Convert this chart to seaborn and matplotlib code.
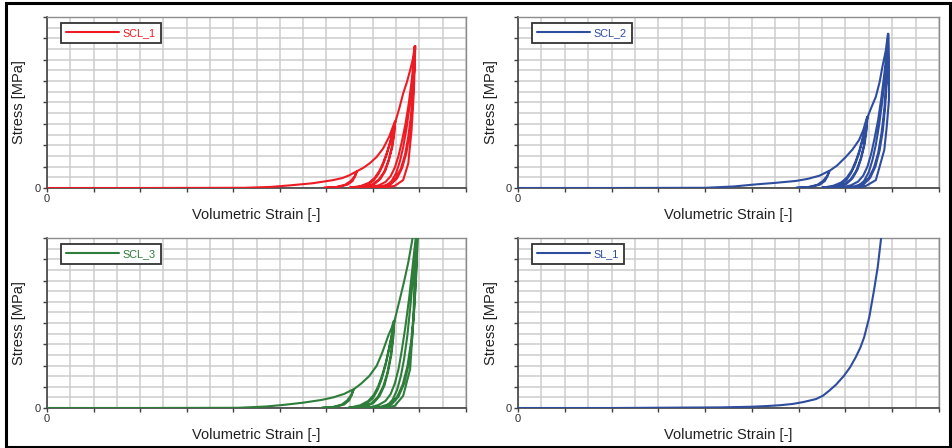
import matplotlib
matplotlib.use("Agg")
import matplotlib.pyplot as plt
import pandas as pd
import seaborn as sns
from matplotlib.patches import Rectangle
from matplotlib.ticker import MultipleLocator

# ---------------- data (axis units: x 0..9 ticks, y 0..8 ticks) ----------------
SCL1_X = [0.00, 2.00, 4.25, 4.80, 5.20, 5.70, 6.15, 6.35, 6.50, 6.65,
          6.62, 6.56, 6.45, 6.25, 5.95,
          6.20, 6.40, 6.52, 6.60, 6.67,
          6.80, 6.94, 7.08, 7.22, 7.35, 7.47,
          7.45, 7.40, 7.33, 7.24, 7.12, 6.98, 6.80, 6.50,
          6.55, 6.75, 6.92, 7.04, 7.14, 7.22, 7.30, 7.38, 7.44, 7.48,
          7.46, 7.42, 7.35, 7.27, 7.16, 7.03, 6.86, 6.60,
          6.70, 6.88, 7.02, 7.12, 7.21, 7.29, 7.36, 7.43, 7.49,
          7.57, 7.65, 7.73, 7.80, 7.86, 7.90,
          7.89, 7.86, 7.82, 7.76, 7.69, 7.60, 7.49, 7.35, 7.15, 6.85,
          6.95, 7.12, 7.27, 7.38, 7.47, 7.55, 7.62, 7.70, 7.77, 7.84, 7.90,
          7.89, 7.87, 7.84, 7.79, 7.72, 7.63, 7.52, 7.38, 7.20,
          7.28, 7.40, 7.50, 7.58, 7.65, 7.72, 7.79, 7.86, 7.91,
          7.90, 7.88, 7.83, 7.76, 7.65, 7.47, 7.30, 7.00]
SCL1_Y = [0.00, 0.00, 0.01, 0.05, 0.12, 0.22, 0.37, 0.47, 0.60, 0.78,
          0.55, 0.32, 0.15, 0.05, 0.01,
          0.04, 0.15, 0.32, 0.52, 0.80,
          0.95, 1.17, 1.45, 1.85, 2.40, 3.10,
          2.50, 1.85, 1.25, 0.75, 0.38, 0.16, 0.06, 0.02,
          0.03, 0.10, 0.25, 0.48, 0.80, 1.18, 1.65, 2.20, 2.70, 3.12,
          2.55, 1.95, 1.35, 0.82, 0.42, 0.18, 0.07, 0.02,
          0.05, 0.16, 0.36, 0.66, 1.05, 1.52, 2.05, 2.65, 3.15,
          3.75, 4.42, 4.95, 5.51, 6.05, 6.64,
          5.60, 4.50, 3.40, 2.40, 1.55, 0.90, 0.45, 0.18, 0.06, 0.02,
          0.04, 0.12, 0.28, 0.55, 0.95, 1.50, 2.15, 3.00, 3.95, 5.15, 6.60,
          5.70, 4.70, 3.60, 2.55, 1.65, 0.95, 0.45, 0.16, 0.05,
          0.10, 0.32, 0.70, 1.25, 1.90, 2.75, 3.85, 5.20, 6.64,
          5.83, 4.50, 2.70, 1.15, 0.37, 0.10, 0.03, 0.01]

SCL2_X = [0.00, 2.00, 4.00, 4.60, 5.09, 5.50, 5.94, 6.20, 6.45, 6.65,
          6.62, 6.56, 6.45, 6.25, 5.95,
          6.20, 6.40, 6.52, 6.60, 6.67,
          6.82, 7.01, 7.15, 7.29, 7.38, 7.46,
          7.44, 7.39, 7.32, 7.23, 7.11, 6.97, 6.79, 6.50,
          6.55, 6.75, 6.92, 7.04, 7.14, 7.22, 7.30, 7.37, 7.43, 7.47,
          7.45, 7.41, 7.34, 7.26, 7.15, 7.02, 6.85, 6.60,
          6.70, 6.88, 7.02, 7.12, 7.21, 7.29, 7.36, 7.42, 7.48,
          7.56, 7.65, 7.73, 7.79, 7.86, 7.91,
          7.90, 7.87, 7.83, 7.77, 7.70, 7.61, 7.50, 7.36, 7.16, 6.85,
          6.95, 7.12, 7.27, 7.38, 7.47, 7.55, 7.62, 7.70, 7.77, 7.84, 7.90,
          7.89, 7.88, 7.85, 7.80, 7.73, 7.64, 7.53, 7.39, 7.21,
          7.28, 7.40, 7.50, 7.58, 7.65, 7.72, 7.79, 7.86, 7.92,
          7.93, 7.93, 7.88, 7.83, 7.65, 7.44, 7.30, 7.00]
SCL2_Y = [0.00, 0.00, 0.01, 0.07, 0.17, 0.24, 0.33, 0.43, 0.58, 0.80,
          0.56, 0.33, 0.15, 0.05, 0.01,
          0.04, 0.15, 0.33, 0.54, 0.82,
          1.05, 1.46, 1.80, 2.24, 2.70, 3.30,
          2.65, 1.95, 1.32, 0.80, 0.40, 0.17, 0.06, 0.02,
          0.03, 0.11, 0.27, 0.51, 0.85, 1.26, 1.76, 2.35, 2.88, 3.32,
          2.70, 2.05, 1.42, 0.87, 0.45, 0.19, 0.07, 0.02,
          0.05, 0.17, 0.38, 0.70, 1.12, 1.62, 2.19, 2.82, 3.36,
          3.80, 4.27, 4.95, 5.67, 6.40, 7.22,
          6.00, 4.85, 3.65, 2.55, 1.65, 0.95, 0.47, 0.19, 0.06, 0.02,
          0.04, 0.13, 0.30, 0.58, 1.00, 1.60, 2.30, 3.20, 4.25, 5.50, 6.68,
          5.70, 4.90, 3.85, 2.70, 1.75, 1.00, 0.48, 0.17, 0.05,
          0.10, 0.34, 0.75, 1.33, 2.03, 2.95, 4.10, 5.55, 7.20,
          6.00, 4.11, 2.80, 1.78, 0.37, 0.10, 0.03, 0.01]

SCL3_X = [0.00, 2.00, 4.10, 4.70, 5.10, 5.50, 5.90, 6.15, 6.38, 6.58,
          6.55, 6.49, 6.38, 6.18, 5.90,
          6.13, 6.33, 6.45, 6.53, 6.60,
          6.75, 6.92, 7.08, 7.20, 7.33, 7.40, 7.45,
          7.43, 7.38, 7.31, 7.22, 7.10, 6.96, 6.78, 6.48,
          6.53, 6.73, 6.90, 7.02, 7.12, 7.20, 7.28, 7.35, 7.41, 7.46,
          7.44, 7.40, 7.33, 7.25, 7.14, 7.01, 6.84, 6.58,
          6.68, 6.86, 7.00, 7.10, 7.19, 7.27, 7.34, 7.41, 7.47,
          7.52, 7.58, 7.67, 7.76, 7.85, 7.97,
          7.95, 7.92, 7.88, 7.82, 7.74, 7.64, 7.52, 7.37, 7.17, 6.85,
          6.95, 7.12, 7.27, 7.38, 7.47, 7.55, 7.62, 7.70, 7.78, 7.87, 7.96,
          7.95, 7.93, 7.89, 7.84, 7.77, 7.67, 7.55, 7.41, 7.23,
          7.30, 7.42, 7.52, 7.60, 7.67, 7.74, 7.81, 7.89, 7.97,
          7.96, 7.90, 7.87, 7.80, 7.65, 7.47, 7.30, 7.00]
SCL3_Y = [0.00, 0.00, 0.01, 0.07, 0.15, 0.25, 0.38, 0.50, 0.66, 0.88,
          0.62, 0.36, 0.16, 0.05, 0.01,
          0.04, 0.16, 0.36, 0.60, 0.90,
          1.15, 1.50, 1.98, 2.60, 3.40, 3.75, 4.10,
          3.30, 2.45, 1.65, 1.00, 0.50, 0.21, 0.07, 0.02,
          0.03, 0.13, 0.33, 0.62, 1.05, 1.55, 2.15, 2.85, 3.50, 4.10,
          3.35, 2.55, 1.75, 1.07, 0.55, 0.23, 0.08, 0.02,
          0.05, 0.20, 0.46, 0.85, 1.37, 2.00, 2.70, 3.45, 4.15,
          4.60, 5.13, 5.95, 6.85, 7.96, 8.80,
          7.40, 6.00, 4.50, 3.10, 1.95, 1.10, 0.52, 0.20, 0.06, 0.02,
          0.04, 0.14, 0.33, 0.65, 1.15, 1.83, 2.70, 3.85, 5.20, 7.00, 8.80,
          7.50, 6.20, 4.70, 3.25, 2.05, 1.15, 0.53, 0.19, 0.05,
          0.10, 0.38, 0.85, 1.50, 2.30, 3.40, 4.90, 6.90, 8.80,
          8.30, 6.56, 4.18, 1.83, 0.57, 0.10, 0.03, 0.01]

SL1_X = [0.00, 2.00, 4.37, 5.00, 5.30, 5.60, 5.87, 6.10, 6.37, 6.52, 6.65,
         6.80, 6.97, 7.10, 7.22, 7.32, 7.40, 7.51, 7.61, 7.69, 7.76, 7.83]
SL1_Y = [0.00, 0.00, 0.03, 0.06, 0.09, 0.13, 0.19, 0.28, 0.42, 0.58, 0.81,
         1.10, 1.52, 1.92, 2.39, 2.85, 3.33, 4.28, 5.53, 6.63, 7.95, 9.20]

NAMES = ["SCL_1", "SCL_2", "SCL_3", "SL_1"]
COLORS = ["#ED1C24", "#2E4D9E", "#2E7D3A", "#2E4D9E"]
X_LABEL = "Volumetric Strain [-]"
Y_LABEL = "Stress [MPa]"

# ---------------- figure ----------------
sns.set_style("white")
plt.rcParams["font.family"] = ["Liberation Sans", "DejaVu Sans"]

W, H = 952, 448
fig = plt.figure(figsize=(W / 100, H / 100), dpi=100, facecolor="white")

# axes pixel boxes: (left, top, right, bottom)
boxes = [(47, 17, 466, 188), (518, 17, 939, 188),
         (47, 238, 466, 408), (518, 238, 939, 408)]
series = [(SCL1_X, SCL1_Y), (SCL2_X, SCL2_Y), (SCL3_X, SCL3_Y), (SL1_X, SL1_Y)]

for (l, t, r, b), (xs, ys), name, col in zip(boxes, series, NAMES, COLORS):
    ax = fig.add_axes([l / W, (H - b) / H, (r - l) / W, (b - t) / H])
    df = pd.DataFrame({"strain": xs, "stress": ys})
    sns.lineplot(data=df, x="strain", y="stress", sort=False, estimator=None,
                 color=col, lw=1.5, label=name, ax=ax, zorder=3)
    ax.set_xlim(0, 9)
    ax.set_ylim(0, 8)
    ax.set_xticks(range(10))
    ax.set_xticklabels(["0"] + [""] * 9)
    ax.set_yticks(range(9))
    ax.set_yticklabels(["0"] + [""] * 8)
    ax.xaxis.set_minor_locator(MultipleLocator(0.5))
    ax.yaxis.set_minor_locator(MultipleLocator(0.5))
    ax.grid(which="both", color="#cdcdcd", lw=1.1)
    ax.set_axisbelow(True)
    ax.tick_params(which="major", direction="out", length=3, width=1,
                   color="#404040", labelsize=8, labelcolor="#303030", pad=1.5,
                   bottom=True, left=True)
    ax.tick_params(which="minor", length=0)
    for s in ("left", "bottom"):
        ax.spines[s].set_color("#404040")
        ax.spines[s].set_linewidth(1.2)
    for s in ("top", "right"):
        ax.spines[s].set_color("#8c8c8c")
        ax.spines[s].set_linewidth(1.0)
    ph = b - t
    pw = r - l
    ax.set_xlabel(X_LABEL, fontsize=10.5, color="#202020", va="baseline")
    ax.xaxis.set_label_coords(0.5, -30.5 / ph)
    ax.set_ylabel(Y_LABEL, fontsize=10.5, color="#202020", va="baseline")
    ax.yaxis.set_label_coords(-23.5 / pw, 0.5)
    leg = ax.legend(loc="upper left", bbox_to_anchor=(13.5 / pw, 1 - 6 / ph),
                    borderaxespad=0, fontsize=7.8, handlelength=4.9,
                    handletextpad=0.35, borderpad=0.48, fancybox=False,
                    framealpha=1, edgecolor="#333333", labelcolor="linecolor")
    leg.get_frame().set_linewidth(1.3)

fig.add_artist(Rectangle((5.5 / W, 1.5 / H), (950 - 5.5) / W, (444.7 - 1.5) / H,
                         transform=fig.transFigure, fill=False, lw=2.2,
                         ec="black"))

fig.savefig("out.png", dpi=100, facecolor="white")
